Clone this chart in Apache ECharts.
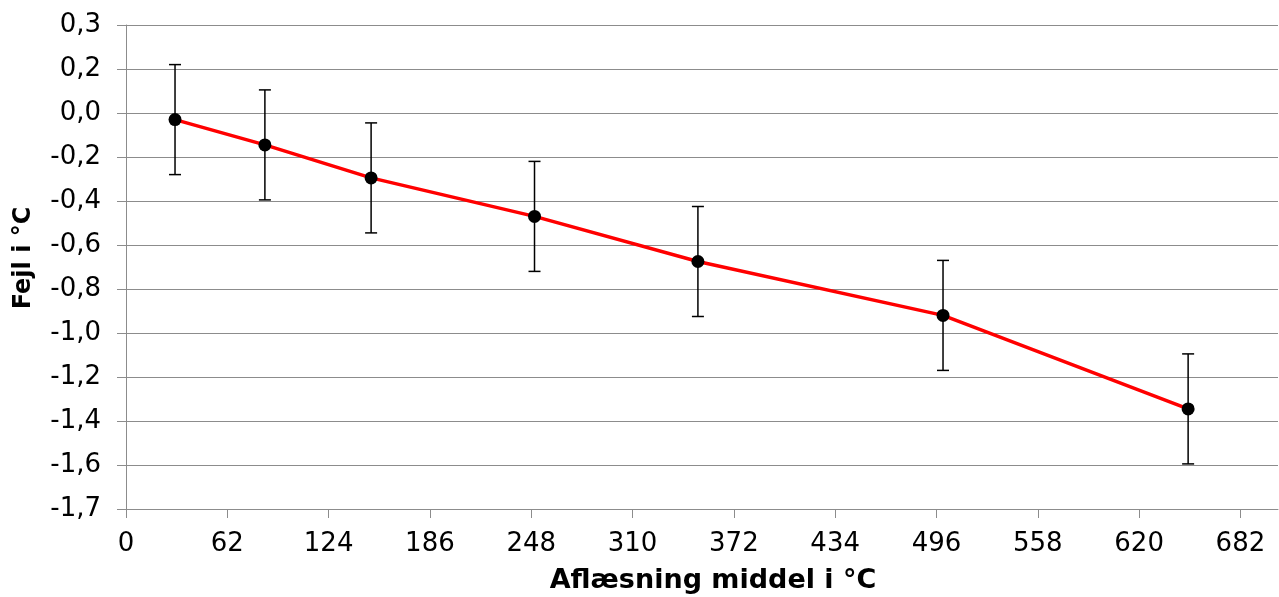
<!DOCTYPE html>
<html>
<head>
<meta charset="utf-8">
<script src="https://cdn.jsdelivr.net/npm/echarts@6/dist/echarts.min.js"></script>
<style>html,body{margin:0;padding:0;background:#fff;}#c{width:1279px;height:597px;}</style>
</head>
<body>
<div id="c"></div>
<script>
// Data
var xValues = [30, 85, 150, 250, 350, 500, 650];
var yValues = [-0.03, -0.145, -0.295, -0.47, -0.675, -0.92, -1.345];
var yErrors = [0.25, 0.25, 0.25, 0.25, 0.25, 0.25, 0.25];
var xTickValues = [0, 62, 124, 186, 248, 310, 372, 434, 496, 558, 620, 682];
var yTickValues = [0.4, 0.2, 0.0, -0.2, -0.4, -0.6, -0.8, -1.0, -1.2, -1.4, -1.6, -1.8];
var yTickLabels = ['0,3', '0,2', '0,0', '-0,2', '-0,4', '-0,6', '-0,8', '-1,0', '-1,2', '-1,4', '-1,6', '-1,7'];
var xTitle = 'Aflæsning middel i °C';
var yTitle = 'Fejl i °C';

var font = 'DejaVu Sans';
var lineData = xValues.map(function (x, i) { return [x, yValues[i]]; });
var errData = xValues.map(function (x, i) { return [x, yValues[i] - yErrors[i], yValues[i] + yErrors[i]]; });

var chart = echarts.init(document.getElementById('c'), null, { renderer: 'canvas' });
chart.setOption({
  animation: false,
  backgroundColor: '#fff',
  grid: { left: 126, right: 1, top: 25, bottom: 88, containLabel: false, outerBoundsMode: 'none' },
  xAxis: {
    type: 'value', min: 0, max: 705,
    name: xTitle, nameLocation: 'middle', nameGap: 58,
    nameTextStyle: { fontFamily: font, fontSize: 27, fontWeight: 'bold', color: '#000', padding: [0, 0, 0, 22] },
    axisLine: { show: true, onZero: false, lineStyle: { color: '#8c8c8c', width: 1 } },
    axisTick: { show: true, length: 9, customValues: xTickValues, lineStyle: { color: '#8c8c8c' } },
    axisLabel: { customValues: xTickValues, fontFamily: font, fontSize: 26, color: '#000', margin: 22 },
    splitLine: { show: false }
  },
  yAxis: {
    type: 'value', min: -1.8, max: 0.4, interval: 0.2,
    name: yTitle, nameLocation: 'middle', nameGap: 90, nameRotate: 90,
    nameTextStyle: { fontFamily: font, fontSize: 24, fontWeight: 'bold', color: '#000', padding: [0, 0, 0, 18] },
    axisLine: { show: true, onZero: false, lineStyle: { color: '#8c8c8c', width: 1 } },
    axisTick: { show: true, length: 9, lineStyle: { color: '#8c8c8c' } },
    axisLabel: {
      fontFamily: font, fontSize: 26, color: '#000', margin: 25,
      formatter: function (v) {
        for (var i = 0; i < yTickValues.length; i++) {
          if (Math.abs(yTickValues[i] - v) < 1e-6) return yTickLabels[i];
        }
        return '';
      }
    },
    splitLine: { show: true, lineStyle: { color: '#8c8c8c', width: 1 } }
  },
  series: [
    {
      type: 'custom',
      data: errData,
      z: 3,
      renderItem: function (params, api) {
        var x = api.value(0);
        var lo = api.coord([x, api.value(1)]);
        var hi = api.coord([x, api.value(2)]);
        var cap = 6;
        var st = { stroke: '#000', lineWidth: 1.5 };
        return {
          type: 'group',
          children: [
            { type: 'line', shape: { x1: lo[0], y1: lo[1], x2: hi[0], y2: hi[1] }, style: st },
            { type: 'line', shape: { x1: lo[0] - cap, y1: lo[1], x2: lo[0] + cap, y2: lo[1] }, style: st },
            { type: 'line', shape: { x1: hi[0] - cap, y1: hi[1], x2: hi[0] + cap, y2: hi[1] }, style: st }
          ]
        };
      }
    },
    {
      type: 'line',
      data: lineData,
      z: 4,
      lineStyle: { color: '#ff0000', width: 3.5 },
      symbol: 'circle',
      symbolSize: 13,
      itemStyle: { color: '#000', borderWidth: 0 }
    }
  ]
});
</script>
</body>
</html>
